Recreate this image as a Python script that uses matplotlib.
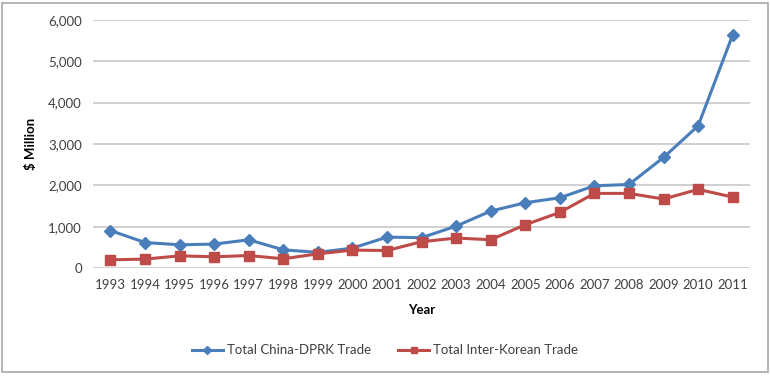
import matplotlib.pyplot as plt
from matplotlib.patches import Rectangle

years = [str(y) for y in range(1993, 2012)]
china_dprk = [908, 618, 563, 580, 684, 442, 380, 483, 749, 735, 1015, 1378, 1580, 1700, 1990, 2022, 2675, 3440, 5640]
inter_korean = [200, 217, 297, 273, 304, 225, 345, 435, 425, 638, 726, 686, 1049, 1346, 1806, 1806, 1670, 1903, 1717]
y_ticks = [0, 1000, 2000, 3000, 4000, 5000, 6000]

plt.rcParams['font.family'] = ['Lato', 'DejaVu Sans']

fig = plt.figure(figsize=(7.7, 3.76), dpi=100)
ax = fig.add_axes([0.121, 0.287, 0.853, 0.660])

x = list(range(len(years)))
ax.plot(x, china_dprk, color='#4A7EBB', lw=2.2, marker='D', ms=6, label='Total China-DPRK Trade')
ax.plot(x, inter_korean, color='#BE4B48', lw=2.2, marker='s', ms=7, label='Total Inter-Korean Trade')

ax.set_xlim(-0.5, len(years) - 0.5)
ax.set_ylim(0, 6000)
ax.set_xticks(x)
ax.set_xticklabels(years)
ax.set_yticks(y_ticks)
ax.set_yticklabels([f'{v:,}' for v in y_ticks])
ax.tick_params(length=0, labelsize=9.5, colors='#404040', pad=8)
ax.grid(axis='y', color='#C8C8C8', lw=1.2)
ax.set_axisbelow(True)
for s in ax.spines.values():
    s.set_visible(False)

ax.set_xlabel('Year', fontsize=9.5, fontweight='bold', labelpad=9)
ax.set_ylabel('$ Million', fontsize=9.5, fontweight='bold', labelpad=8)

fig.legend(loc='center', bbox_to_anchor=(0.50, 0.068), ncol=2, frameon=False,
           fontsize=9.5, handlelength=2.4, handletextpad=0.3, columnspacing=2.0,
           markerscale=0.7, labelcolor='#404040')

fig.patches.append(Rectangle((0.003, 0.01), 0.994, 0.983, transform=fig.transFigure,
                             fill=False, edgecolor='#A8A8A8', lw=1.2))

fig.savefig('out.png')
